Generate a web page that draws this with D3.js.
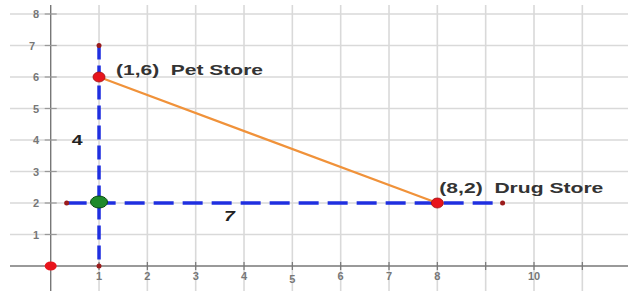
<!DOCTYPE html>
<html>
<head>
<meta charset="utf-8">
<script src="https://cdn.jsdelivr.net/npm/d3@7"></script>
<style>
  body { margin: 0; background: #fff; }
  text { font-family: "Liberation Sans", Arial, sans-serif; white-space: pre; }
</style>
</head>
<body>
<svg id="main-svg" width="628" height="291"></svg>
<script>
// tick values and labels
const xGrid = [1, 2, 3, 4, 5, 6, 7, 8, 9, 10, 11];
const xTickLabels = [1, 2, 3, 4, 5, 6, 7, 8, 10];
const yGrid = [1, 2, 3, 4, 5, 6, 7, 8];
const yTickLabels = [1, 2, 3, 4, 5, 6, 7, 8];

// the two stores
const stores = [
    { x: 1, y: 6, label: '(1,6)  Pet Store' },
    { x: 8, y: 2, label: '(8,2)  Drug Store' },
];
// corner of the right triangle
const corner = { x: 1, y: 2 };
// small end points of the dashed legs
const legEnds = [
    { x: 1, y: 7 }, { x: 1, y: 0 },
    { x: 0.33, y: 2 }, { x: 9.35, y: 2 },
];
const originPt = { x: 0, y: 0 };
// leg lengths
const legLabels = [
    { text: '4', x: 0.55, y: 4 },
    { text: '7', x: 3.7, y: 1.6 },
];

const svg = d3.select('#main-svg');
const x = d3.scaleLinear().domain([0, 10]).range([50.7, 534]);
const y = d3.scaleLinear().domain([0, 8]).range([266, 14]);

// grid
svg.selectAll('.vgrid').data(xGrid).enter().append('line')
    .attr('x1', d => x(d)).attr('x2', d => x(d))
    .attr('y1', 5).attr('y2', 291)
    .attr('stroke', '#d9d9d9').attr('stroke-width', 1.6);
svg.selectAll('.hgrid').data(yGrid).enter().append('line')
    .attr('x1', 10).attr('x2', 628)
    .attr('y1', d => y(d)).attr('y2', d => y(d))
    .attr('stroke', '#d9d9d9').attr('stroke-width', 1.6);

// axes
svg.append('line').attr('x1', x(0)).attr('x2', x(0)).attr('y1', 5).attr('y2', 291)
    .attr('stroke', '#777').attr('stroke-width', 1.4);
svg.append('line').attr('x1', 10).attr('x2', 628).attr('y1', y(0)).attr('y2', y(0))
    .attr('stroke', '#777').attr('stroke-width', 1.4);

// tick marks
svg.selectAll('.xtick').data(xGrid).enter().append('line')
    .attr('x1', d => x(d)).attr('x2', d => x(d))
    .attr('y1', y(0) - 4).attr('y2', y(0) + 4)
    .attr('stroke', '#777').attr('stroke-width', 1.2);
svg.selectAll('.ytick').data(yGrid).enter().append('line')
    .attr('x1', x(0) - 6).attr('x2', x(0) + 6)
    .attr('y1', d => y(d)).attr('y2', d => y(d))
    .attr('stroke', '#999').attr('stroke-width', 1.2);

// tick labels
svg.selectAll('.xlab').data(xTickLabels).enter().append('text')
    .attr('x', d => x(d)).attr('y', d => d === 5 ? y(0) + 17 : y(0) + 14)
    .attr('text-anchor', 'middle')
    .attr('font-size', 11).attr('font-weight', 'bold').attr('fill', '#777')
    .text(d => d);
svg.selectAll('.ylab').data(yTickLabels).enter().append('text')
    .attr('x', d => d === 7 ? 35 : 39).attr('y', d => y(d) + 4)
    .attr('text-anchor', 'end')
    .attr('font-size', 11).attr('font-weight', 'bold').attr('fill', '#777')
    .text(d => d);

// dashed legs
svg.append('line')
    .attr('x1', x(1)).attr('x2', x(1))
    .attr('y1', y(7)).attr('y2', y(0))
    .attr('stroke', '#1f2fe0').attr('stroke-width', 3.5)
    .attr('stroke-dasharray', '14,6');
svg.append('line')
    .attr('x1', x(0.33)).attr('x2', x(9.35))
    .attr('y1', y(2)).attr('y2', y(2))
    .attr('stroke', '#1f2fe0').attr('stroke-width', 3.5)
    .attr('stroke-dasharray', '20,9');

// hypotenuse
svg.append('line')
    .attr('x1', x(stores[0].x)).attr('y1', y(stores[0].y))
    .attr('x2', x(stores[1].x)).attr('y2', y(stores[1].y))
    .attr('stroke', '#f0923a').attr('stroke-width', 2.2);

// small end points
svg.selectAll('.end').data(legEnds).enter().append('circle')
    .attr('cx', d => x(d.x)).attr('cy', d => y(d.y)).attr('r', 2.5)
    .attr('fill', '#9b1c1c');

// origin
svg.append('ellipse')
    .attr('cx', x(originPt.x)).attr('cy', y(originPt.y))
    .attr('rx', 6).attr('ry', 4.5).attr('fill', '#e8141c');

// store points
svg.selectAll('.store').data(stores).enter().append('ellipse')
    .attr('cx', d => x(d.x)).attr('cy', d => y(d.y))
    .attr('rx', 6).attr('ry', 5)
    .attr('fill', '#e8141c').attr('stroke', '#a01010').attr('stroke-width', 0.8);

// corner point
svg.append('ellipse')
    .attr('cx', x(corner.x)).attr('cy', y(corner.y) - 1)
    .attr('rx', 8.5).attr('ry', 6)
    .attr('fill', '#1e8a2a').attr('stroke', '#0b4a12').attr('stroke-width', 1);

// store labels (the picture is stretched sideways)
svg.selectAll('.slab').data(stores).enter().append('text')
    .attr('x', d => x(d.x) + (d.x === 8 ? 2 : 17))
    .attr('y', d => y(d.y) - (d.x === 8 ? 10 : 2))
    .attr('font-size', 15).attr('font-weight', 'bold').attr('fill', '#333')
    .attr('textLength', d => d.x === 8 ? 164 : 147)
    .attr('lengthAdjust', 'spacingAndGlyphs')
    .text(d => d.label);

// leg labels
svg.selectAll('.leg').data(legLabels).enter().append('text')
    .attr('x', d => x(d.x)).attr('y', d => y(d.y) + 5)
    .attr('text-anchor', 'middle')
    .attr('font-size', 15).attr('font-weight', 'bold')
    .attr('font-style', d => d.text === '7' ? 'italic' : 'normal')
    .attr('fill', '#222')
    .attr('transform', d => `translate(${x(d.x)},0) scale(1.3,1) translate(${-x(d.x)},0)`)
    .text(d => d.text);
</script>
</body>
</html>
